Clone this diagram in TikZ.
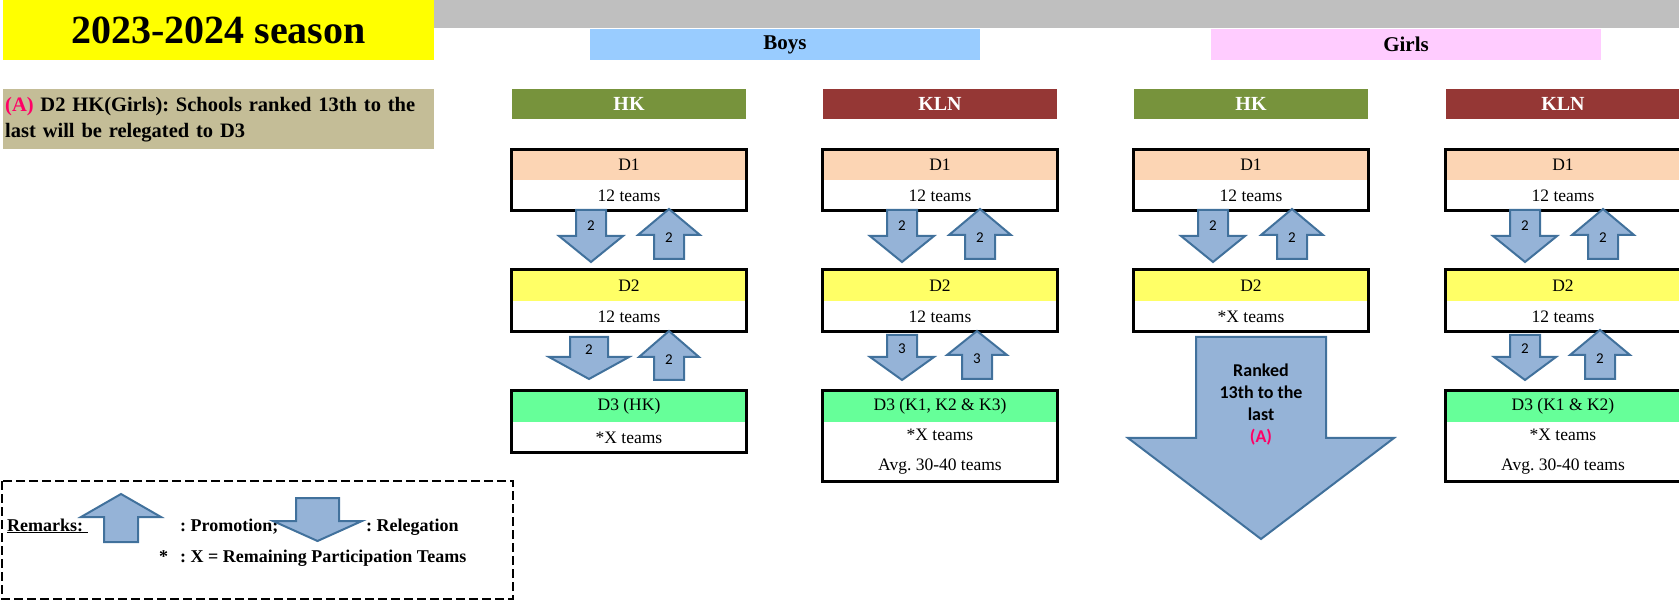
\documentclass[tikz,border=0pt]{standalone}
\usepackage{fontspec}
\setmainfont{Liberation Serif}
\newfontfamily\calfont{Carlito}
\usetikzlibrary{positioning}

\definecolor{seasonyellow}{HTML}{FFFF00}
\definecolor{bargray}{HTML}{BFBFBF}
\definecolor{boysblue}{HTML}{99CCFF}
\definecolor{girlspink}{HTML}{FFCCFF}
\definecolor{notetan}{HTML}{C4BD97}
\definecolor{hkgreen}{HTML}{77933C}
\definecolor{klnred}{HTML}{953735}
\definecolor{dpeach}{HTML}{FCD5B4}
\definecolor{dyellow}{HTML}{FFFF66}
\definecolor{dgreen}{HTML}{66FF99}
\definecolor{arrfill}{HTML}{95B3D7}
\definecolor{arrline}{HTML}{41719C}
\definecolor{notepink}{HTML}{FF0066}

% block arrows: name, x, top, head base, tip, shaft half, head half, number
\newcommand{\relarr}[8]{%
  \draw[blockarr] ({#2-#6},#3) -- ({#2+#6},#3) -- ({#2+#6},#4) -- ({#2+#7},#4)
    -- (#2,#5) -- ({#2-#7},#4) -- ({#2-#6},#4) -- cycle;
  \node[arrnum] (#1) at (#2,{(#3+#4)/2+3}) {#8};}
\newcommand{\promarr}[8]{%
  \draw[blockarr] (#2,#3) -- ({#2+#7},#4) -- ({#2+#6},#4) -- ({#2+#6},#5)
    -- ({#2-#6},#5) -- ({#2-#6},#4) -- ({#2-#7},#4) -- cycle;
  \node[arrnum] (#1) at (#2,{(#3+#5)/2+4}) {#8};}

\begin{document}
\frenchspacing
\begin{tikzpicture}[x=1pt, y=-1pt,
    banner/.style={minimum width=390, minimum height=31, inner sep=0, font=\bfseries\fontsize{21}{24}\selectfont},
    areahead/.style={minimum width=234, minimum height=30, inner sep=0, text=white, font=\bfseries\fontsize{20}{24}\selectfont},
    divhead/.style={minimum width=234, minimum height=31, inner sep=0, font=\fontsize{17.5}{20}\selectfont},
    divbody/.style={divhead, minimum height=30},
    divframe/.style={line width=3pt},
    blockarr/.style={fill=arrfill, draw=arrline, line width=2pt, line join=miter},
    arrnum/.style={inner sep=0, font=\calfont\fontsize{15}{18}\selectfont},
    remtext/.style={inner sep=0, font=\bfseries\fontsize{18}{22}\selectfont}]
\useasboundingbox (0,0) rectangle (1679,601);

% banners
\node[banner, fill=seasonyellow, minimum width=431, minimum height=60,
  font=\bfseries\fontsize{40}{44}\selectfont] (title) at (218.5,30) {2023-2024 season};
\fill[bargray] (434,0) rectangle (1679,28);
\node[banner, fill=boysblue] (boys) at (785,44.5) {Boys};
\node[banner, fill=girlspink] (girls) at (1406,44.5) {Girls};
\node[fill=notetan, anchor=north west, text width=427, inner xsep=2, inner ysep=0,
  minimum height=60, align=left, font=\bfseries\fontsize{20.5}{26}\selectfont] (note) at (3,89)
  {\textcolor{notepink}{(A)} D2 HK(Girls): Schools ranked 13th to the\\last will be relegated to D3};

% area headers
\node[areahead, fill=hkgreen] (bhk) at (629,104) {HK};
\node[areahead, fill=klnred] (bkln) at (940,104) {KLN};
\node[areahead, fill=hkgreen] (ghk) at (1251,104) {HK};
\node[areahead, fill=klnred] (gkln) at (1563,104) {KLN};

% boys HK
\node[divhead, fill=dpeach, below=30pt of bhk] (bhk1) {D1};
\node[divbody, below=0pt of bhk1] (bhk1t) {12 teams};
\node[divhead, fill=dyellow, below=59pt of bhk1t] (bhk2) {D2};
\node[divbody, below=0pt of bhk2] (bhk2t) {12 teams};
\node[divhead, fill=dgreen, below=59pt of bhk2t] (bhk3) {D3 (HK)};
\node[divbody, below=0pt of bhk3] (bhk3t) {*X teams};

% boys KLN
\node[divhead, fill=dpeach, below=30pt of bkln] (bkln1) {D1};
\node[divbody, below=0pt of bkln1] (bkln1t) {12 teams};
\node[divhead, fill=dyellow, below=59pt of bkln1t] (bkln2) {D2};
\node[divbody, below=0pt of bkln2] (bkln2t) {12 teams};
\node[divhead, fill=dgreen, below=59pt of bkln2t] (bkln3) {D3 (K1, K2 \& K3)};
\node[divbody, minimum height=59, align=center, font=\fontsize{17.5}{30}\selectfont,
  below=0pt of bkln3] (bkln3t) {*X teams\\Avg. 30-40 teams};

% girls HK
\node[divhead, fill=dpeach, below=30pt of ghk] (ghk1) {D1};
\node[divbody, below=0pt of ghk1] (ghk1t) {12 teams};
\node[divhead, fill=dyellow, below=59pt of ghk1t] (ghk2) {D2};
\node[divbody, below=0pt of ghk2] (ghk2t) {*X teams};

% girls KLN
\node[divhead, fill=dpeach, below=30pt of gkln] (gkln1) {D1};
\node[divbody, below=0pt of gkln1] (gkln1t) {12 teams};
\node[divhead, fill=dyellow, below=59pt of gkln1t] (gkln2) {D2};
\node[divbody, below=0pt of gkln2] (gkln2t) {12 teams};
\node[divhead, fill=dgreen, below=59pt of gkln2t] (gkln3) {D3 (K1 \& K2)};
\node[divbody, minimum height=59, align=center, font=\fontsize{17.5}{30}\selectfont,
  below=0pt of gkln3] (gkln3t) {*X teams\\Avg. 30-40 teams};

\draw[divframe] (bhk1.north west) rectangle (bhk1t.south east)
  (bhk2.north west) rectangle (bhk2t.south east)
  (bhk3.north west) rectangle (bhk3t.south east)
  (bkln1.north west) rectangle (bkln1t.south east)
  (bkln2.north west) rectangle (bkln2t.south east)
  (bkln3.north west) rectangle (bkln3t.south east)
  (ghk1.north west) rectangle (ghk1t.south east)
  (ghk2.north west) rectangle (ghk2t.south east)
  (gkln1.north west) rectangle (gkln1t.south east)
  (gkln2.north west) rectangle (gkln2t.south east)
  (gkln3.north west) rectangle (gkln3t.south east);

% promotion / relegation arrows
\relarr{bhkdn1}{591}{210}{236}{262}{15}{32}{2}
\promarr{bhkup1}{669}{209}{235}{259}{15}{31}{2}
\relarr{bhkdn2}{589}{337}{357}{379}{19}{40}{2}
\promarr{bhkup2}{669}{331}{357}{380}{15}{30}{2}

\relarr{bklndn1}{902}{210}{236}{262}{15}{32}{2}
\promarr{bklnup1}{980}{209}{235}{259}{15}{31}{2}
\relarr{bklndn2}{902}{335}{357}{380}{15}{32}{3}
\promarr{bklnup2}{977}{331}{355}{379}{15}{30}{3}

\relarr{ghkdn1}{1213}{210}{236}{262}{15}{32}{2}
\promarr{ghkup1}{1292}{209}{235}{259}{15}{31}{2}

\relarr{gklndn1}{1525}{210}{236}{262}{15}{32}{2}
\promarr{gklnup1}{1603}{209}{235}{259}{15}{31}{2}
\relarr{gklndn2}{1525}{335}{357}{380}{15}{31}{2}
\promarr{gklnup2}{1600}{330}{355}{379}{15}{30}{2}

% big relegation arrow, girls HK D2
\draw[blockarr] (1196,337) -- (1326,337) -- (1326,438) -- (1394,438)
  -- (1261,539) -- (1128,438) -- (1196,438) -- cycle;
\node[align=center, inner sep=0, font=\calfont\bfseries\fontsize{18}{22}\selectfont]
  (ranked) at (1261,405) {Ranked\\13th to the\\last\\\textcolor{notepink}{(A)}};

% remarks
\draw[line width=2pt, dash pattern=on 9pt off 4pt] (2,481) rectangle (513,599);
\node[remtext, anchor=base west] (remarks) at (7,531) {\underline{Remarks:\hspace{5pt}}};
\promarr{rempro}{121}{494}{517}{542}{17}{40}{}
\node[remtext, anchor=base west] (promo) at (180,531) {: Promotion;};
\relarr{remrel}{317.5}{498}{521}{541}{21.5}{44.5}{}
\node[remtext, anchor=base west] (releg) at (366,531) {: Relegation};
\node[remtext, anchor=base west] (star) at (159,562) {*};
\node[remtext, anchor=base west] (xdef) at (180,562) {: X = Remaining Participation Teams};
\end{tikzpicture}
\end{document}
